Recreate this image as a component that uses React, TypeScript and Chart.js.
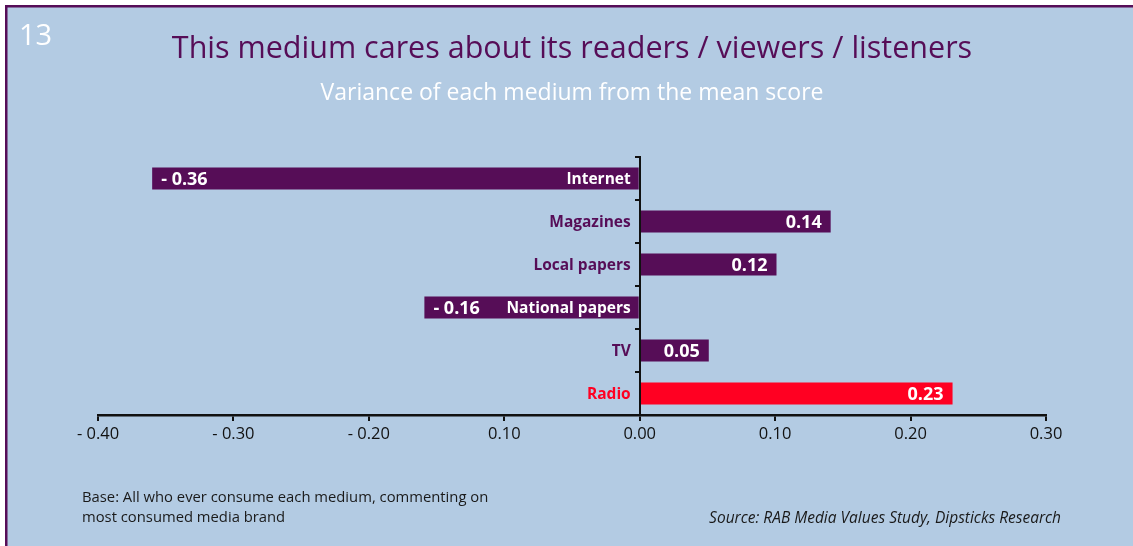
import React, { useEffect, useRef } from "react";
import { Chart, registerables } from "chart.js";

Chart.register(...registerables);

const categories = ["Internet", "Magazines", "Local papers", "National papers", "TV", "Radio"];
const barValues = [-0.36, 0.141, 0.101, -0.159, 0.051, 0.231];
const valueLabels = ["- 0.36", "0.14", "0.12", "- 0.16", "0.05", "0.23"];
const xTickLabels = ["- 0.40", "- 0.30", "- 0.20", "0.10", "0.00", "0.10", "0.20", "0.30"];
const barColors = ["#560d57", "#560d57", "#560d57", "#560d57", "#560d57", "#ff0022"];
const categoryLabelColors = ["#ffffff", "#560d57", "#560d57", "#ffffff", "#560d57", "#ff0022"];

const TITLE = "This medium cares about its readers / viewers / listeners";
const SUBTITLE = "Variance of each medium from the mean score";
const PAGE_NO = "13";
const BASE_LINES = ["Base: All who ever consume each medium, commenting on", "most consumed media brand"];
const SOURCE = "Source: RAB Media Values Study, Dipsticks Research";

const FONT = "'Open Sans', 'Noto Sans', sans-serif";
const PURPLE = "#560d57";
const BG = "#b3cbe3";

const decorPlugin = {
  id: "decor",
  beforeDraw(chart: any) {
    const { ctx, width, height } = chart;
    ctx.save();
    ctx.fillStyle = "#ffffff";
    ctx.fillRect(0, 0, width, height);
    ctx.fillStyle = BG;
    ctx.fillRect(5, 5, width - 5, height - 5);
    ctx.fillStyle = PURPLE;
    ctx.fillRect(5, 5, width - 5, 2.5);
    ctx.fillRect(5, 5, 2.5, height - 5);
    ctx.restore();
  },
  afterDraw(chart: any) {
    const { ctx } = chart;
    ctx.save();
    // page number
    ctx.fillStyle = "#ffffff";
    ctx.font = `29px ${FONT}`;
    ctx.textAlign = "left";
    ctx.textBaseline = "middle";
    ctx.fillText(PAGE_NO, 19, 37);
    // title
    ctx.textAlign = "center";
    ctx.fillStyle = PURPLE;
    ctx.font = `30.5px ${FONT}`;
    ctx.fillText(TITLE, 572, 49);
    ctx.fillStyle = "#ffffff";
    ctx.font = `23px ${FONT}`;
    ctx.fillText(SUBTITLE, 572, 93);
    // footnotes
    ctx.fillStyle = "#1a1a1a";
    ctx.font = `14.8px ${FONT}`;
    ctx.textAlign = "left";
    ctx.fillText(BASE_LINES[0], 82, 498);
    ctx.fillText(BASE_LINES[1], 82, 518);
    ctx.font = `italic 15.5px ${FONT}`;
    ctx.textAlign = "right";
    ctx.fillText(SOURCE, 1061, 519);
    // category labels
    const yScale = chart.scales.y;
    const zeroX = chart.scales.x.getPixelForValue(0);
    ctx.font = `bold 15.5px ${FONT}`;
    ctx.textAlign = "right";
    categories.forEach((c, i) => {
      ctx.fillStyle = categoryLabelColors[i];
      ctx.fillText(c, zeroX - 9, yScale.getPixelForValue(i) + 1);
    });
    // value labels
    const meta = chart.getDatasetMeta(0);
    ctx.font = `bold 18px ${FONT}`;
    ctx.fillStyle = "#ffffff";
    meta.data.forEach((el: any, i: number) => {
      const v = barValues[i];
      if (v < 0) {
        ctx.textAlign = "left";
        ctx.fillText(valueLabels[i], el.x + 9, el.y + 1);
      } else {
        ctx.textAlign = "right";
        ctx.fillText(valueLabels[i], el.x - 9, el.y + 1);
      }
    });
    ctx.restore();
  },
};

export default function App() {
  const ref = useRef<HTMLCanvasElement>(null);
  useEffect(() => {
    document.body.style.margin = "0";
    const chart = new Chart(ref.current!, {
      type: "bar",
      data: {
        labels: categories,
        datasets: [
          {
            data: barValues,
            backgroundColor: barColors,
            borderWidth: 0,
            barPercentage: 1,
            categoryPercentage: 0.51,
          },
        ],
      },
      plugins: [decorPlugin],
      options: {
        indexAxis: "y",
        animation: false,
        responsive: false,
        maintainAspectRatio: false,
        layout: { padding: { left: 98, right: 87, top: 157, bottom: 91 } },
        plugins: {
          legend: { display: false },
          title: { display: false },
          tooltip: { enabled: false },
        },
        scales: {
          x: {
            type: "linear",
            min: -0.4,
            max: 0.3,
            afterFit: (scale: any) => {
              scale.height = 40;
            },
            afterBuildTicks: (scale: any) => {
              scale.ticks = xTickLabels.map((_, i) => ({ value: Math.round((-0.4 + i * 0.1) * 10) / 10 }));
            },
            ticks: {
              callback: (_v: any, i: number) => xTickLabels[i],
              color: "#111111",
              font: { family: FONT, size: 16.5 },
              padding: 3,
              maxRotation: 0,
              autoSkip: false,
            },
            grid: {
              drawOnChartArea: false,
              drawTicks: true,
              tickLength: 6,
              color: "#111111",
              lineWidth: 2,
            },
            border: { display: true, color: "#111111", width: 2.5 },
          },
          y: {
            type: "category",
            position: { x: 0 } as any,
            offset: true,
            ticks: { display: false },
            grid: {
              offset: true,
              drawOnChartArea: false,
              drawTicks: true,
              tickLength: 4,
              color: "#111111",
              lineWidth: 2,
            },
            border: { display: true, color: "#111111", width: 2, z: 1 },
          },
        },
      } as any,
    });
    return () => chart.destroy();
  }, []);
  return (
    <div style={{ width: 1133, height: 546 }}>
      <canvas ref={ref} width={1133} height={546} style={{ display: "block" }} />
    </div>
  );
}
